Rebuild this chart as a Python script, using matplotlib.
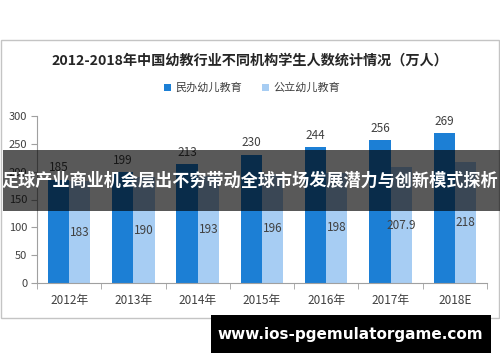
import matplotlib
matplotlib.use("Agg")
import matplotlib.pyplot as plt
from matplotlib.patches import Rectangle
import numpy as np

plt.rcParams['font.family'] = ['Noto Sans CJK SC', 'DejaVu Sans']

categories = ["2012年", "2013年", "2014年", "2015年", "2016年", "2017年", "2018E"]
private_vals = [185, 199, 213, 230, 244, 256, 269]
public_vals = [183, 190, 193, 196, 198, 207.9, 218]
public_labels = ["183", "190", "193", "196", "198", "207.9", "218"]
series_names = ["民办幼儿教育", "公立幼儿教育"]
title = "2012-2018年中国幼教行业不同机构学生人数统计情况（万人）"
overlay_text = "足球产业商业机会层出不穷带动全球市场发展潜力与创新模式探析"
url_text = "www.ios-pgemulatorgame.com"

dark = "#1c7fd5"
light = "#a7cdf3"

W, H = 500, 362
fig = plt.figure(figsize=(5, 3.62), dpi=100)
fig.patch.set_facecolor("white")

# chart frame
fig.patches.append(Rectangle((0.5 / W, 1 - 318 / H), 498.5 / W, 278 / H,
                             transform=fig.transFigure, fill=False,
                             edgecolor="#c4c4c4", linewidth=1.0, zorder=0))

ax = fig.add_axes([37 / W, 1 - 283 / H, 450 / W, 167 / H])
x = np.arange(len(categories))
bw = 0.33
b1 = ax.bar(x - bw / 2, private_vals, bw, color=dark, label=series_names[0], zorder=2)
b2 = ax.bar(x + bw / 2, public_vals, bw, color=light, label=series_names[1], zorder=2)

for xi, v in zip(x, private_vals):
    ax.annotate(f"{v}", (xi - bw / 2, v), xytext=(0, 4), textcoords="offset points",
                ha="center", va="bottom", fontsize=8.5, color="#404040")
for xi, v, lab in zip(x, public_vals, public_labels):
    ax.text(xi + bw / 2, v / 2, lab, ha="center", va="center", fontsize=8.5, color="#404040")

ax.set_xlim(-0.5, len(categories) - 0.5)
ax.set_ylim(0, 300)
ax.set_yticks([0, 50, 100, 150, 200, 250, 300])
ax.tick_params(axis="y", labelsize=8, colors="#404040", length=4, color="#a0a0a0", pad=3)
ax.set_xticks(x)
ax.set_xticklabels(categories)
ax.tick_params(axis="x", which="major", length=0, labelsize=8.5, labelcolor="#404040", pad=8)
ax.set_xticks(np.arange(-0.5, len(categories), 1.0), minor=True)
ax.tick_params(axis="x", which="minor", length=4, color="#a0a0a0")
for s in ["top", "right"]:
    ax.spines[s].set_visible(False)
for s in ["left", "bottom"]:
    ax.spines[s].set_color("#a0a0a0")
    ax.spines[s].set_linewidth(0.8)

fig.text(250 / W, 1 - 61 / H, title, ha="center", va="center", fontsize=10.2,
         fontweight="bold", color="#262626")
leg = fig.legend(handles=[b1, b2], labels=series_names, loc="center",
                 bbox_to_anchor=(252 / W, 1 - 88 / H), ncol=2, frameon=False,
                 fontsize=8, handlelength=0.6, handleheight=0.6, handletextpad=0.4,
                 columnspacing=1.8)
for t in leg.get_texts():
    t.set_color("#404040")

# overlay band
fig.patches.append(Rectangle((3 / W, 1 - 211 / H), 497 / W, 61 / H,
                             transform=fig.transFigure, facecolor="black",
                             alpha=0.65, edgecolor="none", zorder=10))
fig.text(250 / W, 1 - 181 / H, overlay_text, ha="center", va="center", fontsize=12.3,
         fontweight="bold", color="white", zorder=11)

# bottom banner
fig.patches.append(Rectangle((211 / W, 1 - 353 / H), 280 / W, 38 / H,
                             transform=fig.transFigure, facecolor="black",
                             edgecolor="none", zorder=10))
fig.text(350 / W, 1 - 334 / H, url_text, ha="center", va="center", fontsize=11,
         fontweight="bold", color="white", family=["DejaVu Sans"], zorder=11)

fig.savefig("out.png", dpi=100)
